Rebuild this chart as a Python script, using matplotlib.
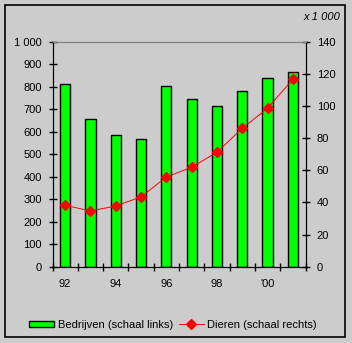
import matplotlib
matplotlib.use("Agg")
import matplotlib.pyplot as plt
from matplotlib.patches import Rectangle
from matplotlib.lines import Line2D

plt.rcParams['font.family'] = ['Liberation Sans', 'DejaVu Sans']
plt.rcParams['font.size'] = 8

years = ['92', '93', '94', '95', '96', '97', '98', '99', '00', '01']
tick_labels = ['92', '', '94', '', '96', '', '98', '', "'00", '']
bedrijven = [811, 655, 584, 566, 802, 744, 716, 781, 839, 866]
dieren = [38.2, 34.7, 37.8, 43.4, 55.8, 61.9, 71.2, 86.1, 98.6, 116.6]

bg = '#cccccc'
fig = plt.figure(figsize=(3.52, 3.43), dpi=100, facecolor=bg)

# outer frame
fig.patches.append(Rectangle((5 / 352, 6 / 343), 340 / 352, 332 / 343,
                             transform=fig.transFigure, fill=False,
                             edgecolor='black', linewidth=1.2))

ax = fig.add_axes([52.5 / 352, 1 - 266.7 / 343, 253 / 352, 225 / 343])
ax.set_facecolor(bg)
x = list(range(len(years)))
ax.bar(x, bedrijven, width=0.4, color='#00ff00', edgecolor='black',
       linewidth=1, zorder=2)
ax.set_xlim(-0.5, 9.5)
ax.set_ylim(0, 1000)
ax.set_yticks(range(0, 1001, 100))
ax.set_yticklabels(['0', '100', '200', '300', '400', '500', '600', '700',
                    '800', '900', '1 000'])
ax.tick_params(axis='y', direction='inout', length=6, width=1, pad=4.5)
ax.set_xticks(x)
ax.set_xticklabels(tick_labels)
ax.set_xticks([i - 0.5 for i in range(len(years) + 1)], minor=True)
ax.tick_params(axis='x', which='major', length=0, pad=9)
ax.tick_params(axis='x', which='minor', direction='inout', length=6, width=1)
for s in ['left', 'right', 'bottom']:
    ax.spines[s].set_color('black')
ax.spines['top'].set_color('#808080')

ax2 = ax.twinx()
ax2.plot(x, dieren, color='red', linewidth=0.7, marker='D', markersize=4.8,
         markerfacecolor='red', markeredgecolor='red', zorder=3)
ax2.set_ylim(0, 140)
ax2.set_yticks(range(0, 141, 20))
ax2.tick_params(axis='y', direction='inout', length=6, width=1, pad=5)
ax2.spines['top'].set_color('#808080')

fig.text(340 / 352, 1 - 17 / 343, 'x 1 000', ha='right', va='center',
         style='italic', fontsize=8)

handles = [Rectangle((0, 0), 1, 1, facecolor='#00ff00', edgecolor='black'),
           Line2D([], [], color='red', linewidth=0.7, marker='D',
                  markersize=4.8)]
fig.legend(handles, ['Bedrijven (schaal links)', 'Dieren (schaal rechts)'],
           loc='center', bbox_to_anchor=(173 / 352, 1 - 325 / 343), ncol=2,
           frameon=False, handlelength=2.3, handleheight=0.55,
           handletextpad=0.3, columnspacing=0.5, fontsize=8)

fig.savefig('out.png', dpi=100, facecolor=bg)
